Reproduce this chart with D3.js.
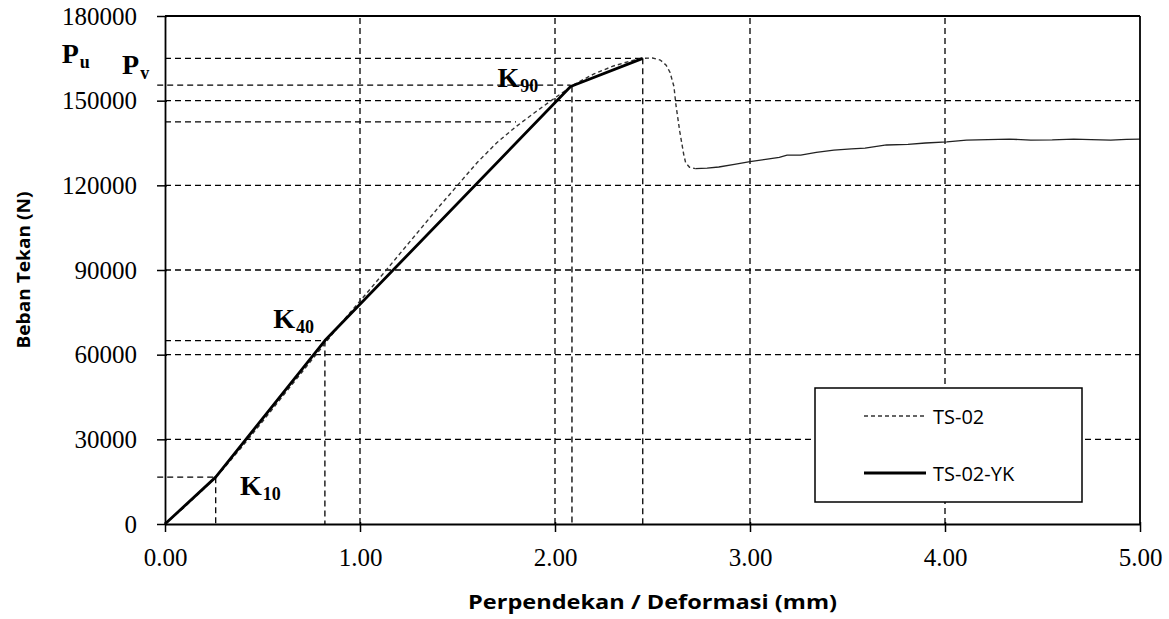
<!DOCTYPE html>
<html><head><meta charset="utf-8">
<script src="https://cdn.jsdelivr.net/npm/d3@7"></script>
<style>body{margin:0;background:#fff}svg{display:block}</style>
</head><body>
<svg id="c" width="1169" height="619"></svg>
<script>
// ---- data ----
const xTicks = [0, 1, 2, 3, 4, 5];
const yTicks = [0, 30000, 60000, 90000, 120000, 150000, 180000];
const seriesNames = ["TS-02", "TS-02-YK"];
// TS-02 (test curve)
const ts02X = [0,0.1,0.2,0.3,0.4,0.5,0.6,0.7,0.8,0.9,1.0,1.07,1.13,1.2,1.3,1.4,1.5,1.6,1.7,1.8,1.9,2.0,2.1,2.2,2.3,2.4,2.45,2.5,2.54,2.57,2.59,2.61,2.62,2.64,2.66,2.67,2.69,2.72,2.78,2.84,2.92,3.0,3.08,3.15,3.19,3.26,3.34,3.43,3.52,3.59,3.7,3.81,3.9,4.01,4.11,4.22,4.33,4.44,4.55,4.66,4.75,4.85,4.93,5.0];
const ts02Y = [0,6000,12500,19600,27800,36300,45000,53600,62200,70900,79000,84700,89600,95400,103700,112000,120000,128000,135000,140800,146000,151000,155800,159500,162300,164300,165000,165100,164400,162600,160000,155000,148600,139000,131000,128000,126400,125900,126100,126500,127400,128400,129200,129900,130700,130700,131700,132500,132900,133200,134300,134500,135000,135400,136000,136200,136400,136000,136100,136400,136200,136000,136300,136400];
const dashEndX = 2.72;
// TS-02-YK (idealised multilinear)
const ykX = [0, 0.26, 0.82, 2.08, 2.45];
const ykY = [0, 16600, 65000, 155000, 165000];
// reference lines
const refH = [ // [value, x from, x to]
  [165000, 0, 2.45], [155500, -0.04, 2.08], [142500, 0, 1.80], [65000, 0, 0.82], [16600, -0.04, 0.26]];
const refV = [ // [x, y top]
  [0.26, 16600], [0.82, 65000], [2.087, 155000], [2.45, 165000]];
const annLabels = [ // [main, sub, x, y (baseline)]
  ["P","u",-0.53,163300], ["P","v",-0.22,159400], ["K","90",1.705,154800], ["K","40",0.555,69400], ["K","10",0.385,10300]];

const svg = d3.select("#c");
const x = d3.scaleLinear().domain([0, 5]).range([165, 1140]);
const y = d3.scaleLinear().domain([0, 180000]).range([524, 16]);
const DASH = "6,4";

// grid
const g = svg.append("g");
g.selectAll(".gh").data(yTicks.slice(1, -1)).join("line")
  .attr("x1", x(0)).attr("x2", x(5)).attr("y1", d => y(d)).attr("y2", d => y(d))
  .attr("stroke", "#000").attr("stroke-width", 1.3).attr("stroke-dasharray", DASH);
g.selectAll(".gv").data(xTicks.slice(1, -1)).join("line")
  .attr("x1", d => x(d)).attr("x2", d => x(d)).attr("y1", y(0)).attr("y2", y(180000))
  .attr("stroke", "#000").attr("stroke-width", 1.3).attr("stroke-dasharray", DASH);

// reference lines
g.selectAll(".rh").data(refH).join("line")
  .attr("x1", d => x(d[1])).attr("x2", d => x(d[2])).attr("y1", d => y(d[0])).attr("y2", d => y(d[0]))
  .attr("stroke", "#000").attr("stroke-width", 1.3).attr("stroke-dasharray", DASH);
g.selectAll(".rv").data(refV).join("line")
  .attr("x1", d => x(d[0])).attr("x2", d => x(d[0])).attr("y1", d => y(d[1])).attr("y2", y(0))
  .attr("stroke", "#000").attr("stroke-width", 1.3).attr("stroke-dasharray", DASH);

// series
const line = d3.line().x(d => x(d[0])).y(d => y(d[1]));
const tsPts = ts02X.map((v, i) => [v, ts02Y[i]]);
svg.append("path").datum(tsPts.filter(d => d[0] <= dashEndX)).attr("d", line)
  .attr("fill", "none").attr("stroke", "#333").attr("stroke-width", 1.4).attr("stroke-dasharray", "4,3");
svg.append("path").datum(tsPts.filter(d => d[0] >= dashEndX)).attr("d", line)
  .attr("fill", "none").attr("stroke", "#222").attr("stroke-width", 1.3);
svg.append("path").datum(ykX.map((v, i) => [v, ykY[i]])).attr("d", line)
  .attr("fill", "none").attr("stroke", "#000").attr("stroke-width", 2.8).attr("stroke-linejoin", "round");

// axes
const yAxis = svg.append("g").attr("transform", `translate(${x(0)},0)`)
  .call(d3.axisLeft(y).tickValues(yTicks).tickFormat(d3.format("d")).tickSize(8).tickSizeOuter(0).tickPadding(20));
const xAxis = svg.append("g").attr("transform", `translate(0,${y(0)})`)
  .call(d3.axisBottom(x).tickValues(xTicks).tickFormat(d3.format(".2f")).tickSize(8).tickSizeOuter(0).tickPadding(16));
[yAxis, xAxis].forEach(a => {
  a.select(".domain").attr("stroke", "#000").attr("stroke-width", 1.8);
  a.selectAll(".tick line").attr("stroke", "#000").attr("stroke-width", 1.5);
  a.selectAll(".tick text").attr("fill", "#000").attr("font-family", "'Liberation Serif', 'Times New Roman', serif").attr("font-size", 25);
});
yAxis.selectAll(".tick line").attr("x2", -8).attr("x1", 2);
xAxis.selectAll(".tick line").attr("y1", -2);
// top and right border
svg.append("line").attr("x1", x(0)).attr("x2", x(5)).attr("y1", y(180000)).attr("y2", y(180000)).attr("stroke", "#000").attr("stroke-width", 1.8);
svg.append("line").attr("x1", x(5)).attr("x2", x(5)).attr("y1", y(180000)).attr("y2", y(0)).attr("stroke", "#000").attr("stroke-width", 1.8);

// axis titles
svg.append("text").attr("x", (x(0) + x(5)) / 2).attr("y", 609).attr("text-anchor", "middle")
  .attr("font-family", "'Open Sans', sans-serif").attr("font-weight", "bold").attr("font-size", 19)
  .attr("textLength", 369).attr("lengthAdjust", "spacingAndGlyphs")
  .text("Perpendekan / Deformasi (mm)");
svg.append("text").attr("transform", `translate(30,${(y(0) + y(180000)) / 2}) rotate(-90)`).attr("text-anchor", "middle")
  .attr("font-family", "'Open Sans', sans-serif").attr("font-weight", "bold").attr("font-size", 17)
  .attr("textLength", 157).attr("lengthAdjust", "spacingAndGlyphs")
  .text("Beban Tekan (N)");

// annotations
const ann = svg.selectAll(".ann").data(annLabels).join("text")
  .attr("x", d => x(d[2])).attr("y", d => y(d[3]))
  .attr("font-family", "'Liberation Serif', 'Times New Roman', serif").attr("font-weight", "bold").attr("fill", "#000");
ann.append("tspan").attr("font-size", 28).text(d => d[0]);
ann.append("tspan").attr("font-size", 18).attr("dy", 5).attr("dx", 1).text(d => d[1]);

// legend
const lg = svg.append("g");
lg.append("rect").attr("x", 815).attr("y", 388).attr("width", 267).attr("height", 114)
  .attr("fill", "#fff").attr("stroke", "#000").attr("stroke-width", 1.5);
const items = [[seriesNames[0], 416, "#333", 1.4, "4,3"], [seriesNames[1], 473, "#000", 3.2, null]];
items.forEach(it => {
  lg.append("line").attr("x1", 864).attr("x2", 926).attr("y1", it[1]).attr("y2", it[1])
    .attr("stroke", it[2]).attr("stroke-width", it[3]).attr("stroke-dasharray", it[4]);
  lg.append("text").attr("x", 933).attr("y", it[1] + 8).attr("font-family", "'Open Sans', sans-serif")
    .attr("font-size", 20).attr("fill", "#000").text(it[0]);
});
</script>
</body></html>
